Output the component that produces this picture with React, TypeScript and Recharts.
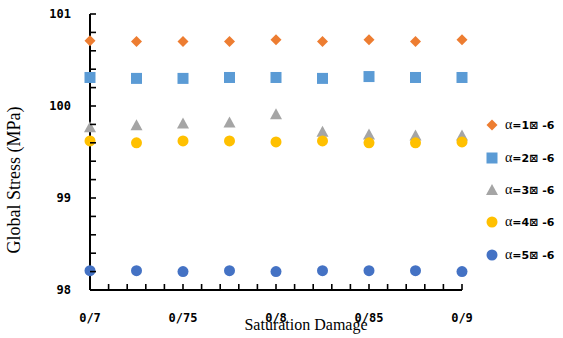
import { Legend, Scatter, ScatterChart, XAxis, YAxis } from 'recharts';

// saturation damage sampled every 0.025
const saturation = [0.7, 0.725, 0.75, 0.775, 0.8, 0.825, 0.85, 0.875, 0.9];

// global stress (MPa) per alpha
const alpha1 = [100.71, 100.7, 100.7, 100.7, 100.72, 100.7, 100.72, 100.7, 100.72];
const alpha2 = [100.31, 100.3, 100.3, 100.31, 100.31, 100.3, 100.32, 100.31, 100.31];
const alpha3 = [99.77, 99.79, 99.81, 99.82, 99.91, 99.72, 99.69, 99.68, 99.68];
const alpha4 = [99.62, 99.6, 99.62, 99.62, 99.61, 99.62, 99.6, 99.6, 99.61];
const alpha5 = [98.21, 98.21, 98.2, 98.21, 98.2, 98.21, 98.21, 98.21, 98.2];

const seriesNames = ['α=1⊠ -6', 'α=2⊠ -6', 'α=3⊠ -6', 'α=4⊠ -6', 'α=5⊠ -6'];

const xMajorTicks = [0.7, 0.75, 0.8, 0.85, 0.9];
const xTickLabels = ['0/7', '0/75', '0/8', '0/85', '0/9'];
const yMajorTicks = [98, 99, 100, 101];
const yTickLabels = ['98', '99', '100', '101'];

const X_MIN = 0.7;
const X_MAX = 0.9;
const X_MINOR = 0.01;
const Y_MIN = 98;
const Y_MAX = 101;
const Y_MINOR = 0.2;

const ORANGE = '#ED7D31';
const LIGHT_BLUE = '#5B9BD5';
const GRAY = '#A5A5A5';
const YELLOW = '#FFC000';
const BLUE = '#4472C4';

const TICK_FONT = '"DejaVu Sans Mono", monospace';
const TITLE_FONT = '"Liberation Serif", "Times New Roman", serif';

const steps = (min: number, max: number, step: number) => {
  const out: number[] = [];
  const n = Math.round((max - min) / step);
  for (let i = 0; i <= n; i++) out.push(+(min + i * step).toFixed(4));
  return out;
};

const xTicks = steps(X_MIN, X_MAX, X_MINOR);
const yTicks = steps(Y_MIN, Y_MAX, Y_MINOR);

const toPoints = (vals: number[]) => saturation.map((x, i) => ({ x, y: vals[i] }));

type Kind = 'diamond' | 'square' | 'triangle' | 'circle';

function Marker({ kind, cx, cy, color }: { kind: Kind; cx: number; cy: number; color: string }) {
  if (kind === 'diamond') {
    const r = 5.5;
    return <path d={`M${cx},${cy - r}L${cx + r},${cy}L${cx},${cy + r}L${cx - r},${cy}Z`} fill={color} />;
  }
  if (kind === 'square') {
    const s = 11;
    return <rect x={cx - s / 2} y={cy - s / 2} width={s} height={s} fill={color} />;
  }
  if (kind === 'triangle') {
    return <path d={`M${cx},${cy - 6}L${cx + 6},${cy + 5}L${cx - 6},${cy + 5}Z`} fill={color} />;
  }
  return <circle cx={cx} cy={cy} r={5.5} fill={color} />;
}

const series: { name: string; data: number[]; kind: Kind; color: string }[] = [
  { name: seriesNames[0], data: alpha1, kind: 'diamond', color: ORANGE },
  { name: seriesNames[1], data: alpha2, kind: 'square', color: LIGHT_BLUE },
  { name: seriesNames[2], data: alpha3, kind: 'triangle', color: GRAY },
  { name: seriesNames[3], data: alpha4, kind: 'circle', color: YELLOW },
  { name: seriesNames[4], data: alpha5, kind: 'circle', color: BLUE },
];

const XTick = ({ x, y, payload }: { x: number; y: number; payload: { value: number } }) => {
  const idx = xMajorTicks.findIndex((t) => Math.abs(t - payload.value) < 1e-6);
  return (
    <g>
      <line x1={x} x2={x} y1={y} y2={y - 6} stroke="#000" strokeWidth={1.6} />
      {idx >= 0 && (
        <text x={x} y={y + 32} textAnchor="middle" fontFamily={TICK_FONT} fontWeight="bold" fontSize={12} fill="#000">
          {xTickLabels[idx]}
        </text>
      )}
    </g>
  );
};

const YTick = ({ x, y, payload }: { x: number; y: number; payload: { value: number } }) => {
  const idx = yMajorTicks.findIndex((t) => Math.abs(t - payload.value) < 1e-6);
  return (
    <g>
      <line x1={x} x2={x + 6} y1={y} y2={y} stroke="#000" strokeWidth={1.6} />
      {idx >= 0 && (
        <text x={x - 19} y={y + 4} textAnchor="end" fontFamily={TICK_FONT} fontWeight="bold" fontSize={12} fill="#000">
          {yTickLabels[idx]}
        </text>
      )}
    </g>
  );
};

function LegendBox() {
  return (
    <div style={{ width: 80 }}>
      {series.map((s) => (
        <div key={s.name} style={{ height: 32.4, display: 'flex', alignItems: 'center' }}>
          <svg width={12} height={14} style={{ marginRight: 7, overflow: 'visible' }}>
            <Marker kind={s.kind} cx={6} cy={7} color={s.color} />
          </svg>
          <span style={{ whiteSpace: 'nowrap', color: '#000', lineHeight: '14px' }}>
            <span style={{ fontFamily: TITLE_FONT, fontSize: 14 }}>{s.name.slice(0, 1)}</span>
            <span style={{ fontFamily: '"DejaVu Sans", sans-serif', fontWeight: 'bold', fontSize: 11 }}>
              {s.name.slice(1)}
            </span>
          </span>
        </div>
      ))}
    </div>
  );
}

export default function App() {
  return (
    <div style={{ position: 'absolute', left: 0, top: 0, width: 563, height: 338, background: '#fff' }}>
      <ScatterChart width={563} height={338} margin={{ top: 14, right: 101, bottom: 0, left: 0 }}>
        <XAxis
          type="number"
          dataKey="x"
          domain={[X_MIN, X_MAX]}
          ticks={xTicks}
          interval={0}
          height={48}
          tickSize={0}
          tickMargin={0}
          tickLine={false}
          axisLine={{ stroke: '#000', strokeWidth: 2 }}
          tick={XTick}
          label={() => (
            <text x={306} y={330} textAnchor="middle" fontFamily={TITLE_FONT} fontSize={16} fill="#000">
              Saturation Damage
            </text>
          )}
        />
        <YAxis
          type="number"
          dataKey="y"
          domain={[Y_MIN, Y_MAX]}
          ticks={yTicks}
          interval={0}
          width={90}
          tickSize={0}
          tickMargin={0}
          tickLine={false}
          axisLine={{ stroke: '#000', strokeWidth: 2 }}
          tick={YTick}
          label={() => (
            <text
              x={20}
              y={180}
              transform="rotate(-90 20 180)"
              textAnchor="middle"
              fontFamily={TITLE_FONT}
              fontSize={18}
              fill="#000"
            >
              Global Stress (MPa)
            </text>
          )}
        />
        <Legend
          layout="vertical"
          align="center"
          verticalAlign="middle"
          content={() => <LegendBox />}
          wrapperStyle={{ left: 486, top: 109, width: 80 }}
        />
        {series.map((s) => (
          <Scatter
            key={s.name}
            name={s.name}
            data={toPoints(s.data)}
            fill={s.color}
            isAnimationActive={false}
            shape={(p: any) => <Marker kind={s.kind} cx={p.cx} cy={p.cy} color={s.color} />}
          />
        ))}
      </ScatterChart>
    </div>
  );
}
